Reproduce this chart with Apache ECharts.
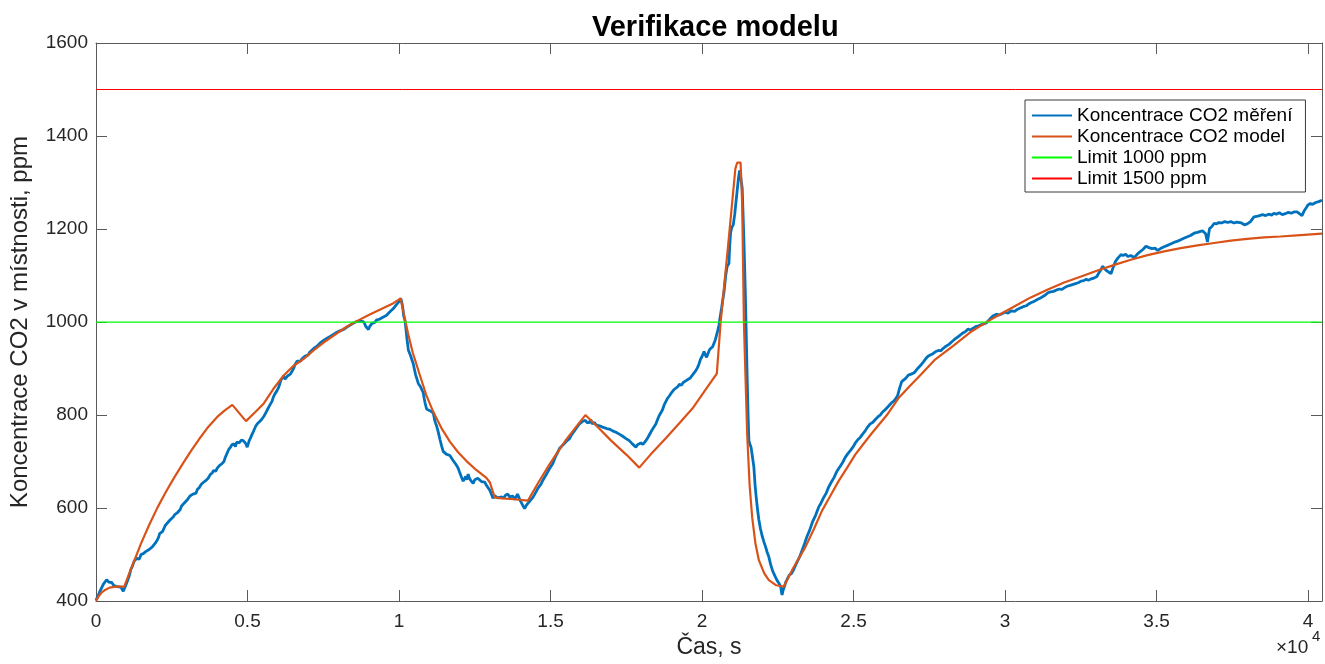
<!DOCTYPE html>
<html>
<head>
<meta charset="utf-8">
<script src="https://cdn.jsdelivr.net/npm/echarts@6/dist/echarts.min.js"></script>
<style>
html,body{margin:0;padding:0;background:#fff;}
#chart{width:1325px;height:664px;}
</style>
</head>
<body>
<div id="chart"></div>
<script>
// ---- data (time [s], CO2 [ppm]) ----
const titleText = 'Verifikace modelu';
const xName = 'Čas, s';
const yName = 'Koncentrace CO2 v místnosti, ppm';
const seriesNames = ['Koncentrace CO2 měření', 'Koncentrace CO2 model', 'Limit 1000 ppm', 'Limit 1500 ppm'];
const xTickScale = 10000; // tick labels shown in units of 10^4 s

const measured = [
[0,402],[60,410],[120,420],[180,424],[240,436],[300,440],[350,446],[385,447],[420,441],[470,438],[520,440],[580,434],[640,435],[700,431],[760,434],[820,430],[870,432],[900,421],[930,426],[970,432],[1000,436],
[1050,446],[1100,455],[1150,468],[1200,475],[1240,478],[1261,486],[1300,484],[1350,492],[1390,496],[1420,490],[1460,495],[1480,500],[1530,497],[1560,502],[1610,500],[1650,507],[1700,505],[1754,511],[1800,510],[1850,516],[1900,519],[1950,524],[2000,527],[2028,532],
[2070,538],[2100,545],[2150,543],[2200,550],[2240,556],[2280,562],[2320,561],[2357,568],[2400,571],[2450,575],[2500,579],[2550,581],[2600,586],[2640,583],[2686,590],[2730,594],[2780,597],[2820,604],[2850,602],[2900,610],[2950,613],[3015,618],
[3060,622],[3100,626],[3150,625],[3200,630],[3250,633],[3300,632],[3344,640],[3380,643],[3420,645],[3460,650],[3500,648],[3540,655],[3580,657],[3620,659],[3650,663],[3700,664],[3728,668],[3770,672],[3800,675],[3840,676],[3880,681],[3920,677],[3950,679],[4002,686],
[4040,690],[4080,692],[4120,690],[4150,695],[4190,698],[4222,700],[4260,708],[4300,714],[4340,718],[4380,726],[4420,723],[4441,731],[4480,736],[4520,734],[4560,738],[4600,732],[4640,741],[4660,744],[4700,738],[4740,741],[4790,746],[4825,750],[4860,745],[4900,743],[4950,738],[4989,731],[5020,737],
[5050,744],[5100,751],[5153,759],[5190,764],[5230,770],[5270,776],[5318,781],[5360,783],[5400,786],[5440,789],[5470,791],[5510,794],[5537,797],[5580,802],[5620,807],[5660,812],[5700,817],[5750,821],[5811,830],[5850,838],[5900,845],[5940,848],[5970,852],[6000,855],[6031,860],
[6070,868],[6100,875],[6150,879],[6195,884],[6240,877],[6280,881],[6320,884],[6350,887],[6380,883],[6414,888],[6460,893],[6500,898],[6540,903],[6570,909],[6600,911],[6634,916],[6670,912],[6700,917],[6750,916],[6800,921],[6850,924],[6900,927],[6963,931],
[7000,929],[7050,935],[7100,937],[7150,941],[7180,938],[7220,945],[7260,943],[7292,948],[7340,949],[7400,955],[7450,953],[7500,960],[7550,958],[7600,964],[7650,963],[7700,968],[7730,966],[7780,971],[7850,974],[7900,972],[7950,978],[8000,977],
[8050,981],[8100,979],[8168,984],[8220,983],[8280,989],[8340,988],[8400,994],[8450,993],[8500,998],[8550,996],[8607,1001],[8650,999],[8700,1002],[8760,998],[8826,1001],[8870,996],[8900,991],[8950,988],[8991,984],[9030,990],[9070,994],
[9110,997],[9155,1001],[9200,999],[9250,1004],[9300,1002],[9350,1006],[9400,1004],[9484,1011],[9530,1010],[9580,1014],[9640,1016],[9700,1022],[9750,1021],[9813,1029],[9860,1032],[9920,1038],[9960,1037],[10000,1044],[10030,1046],[10055,1051],
[10080,1046],[10100,1040],[10130,1028],[10150,1015],[10197,1003],[10230,985],[10260,965],[10290,950],[10307,940],[10340,936],[10380,928],[10420,920],[10471,910],[10510,898],[10550,886],[10590,878],[10636,868],[10670,869],[10700,862],[10750,855],[10800,848],[10830,836],[10860,826],[10910,813],[10950,815],[11000,810],[11060,812],[11129,805],
[11160,795],[11180,788],[11210,782],[11239,777],[11290,765],[11350,748],[11400,735],[11458,722],[11500,726],[11560,716],[11620,720],[11678,713],[11720,709],[11780,703],[11840,700],[11897,692],[11950,686],[12000,677],[12060,667],[12117,658],[12160,663],[12200,668],[12240,661],[12281,673],
[12320,665],[12360,660],[12400,658],[12446,653],[12500,661],[12550,658],[12600,664],[12665,660],[12720,657],[12780,654],[12830,656],[12884,649],[12940,646],[13000,638],[13050,630],[13103,621],[13150,627],[13200,624],[13260,622],[13322,618],[13380,624],[13450,622],[13520,628],[13596,630],[13650,624],[13700,620],[13760,626],[13820,618],[13871,620],[13910,630],[13950,624],[14000,616],[14050,610],[14100,604],[14145,599],[14200,606],[14250,609],[14300,614],[14360,617],[14419,623],
[14480,630],[14530,636],[14580,642],[14630,646],[14690,652],[14748,660],[14800,664],[14850,671],[14900,677],[14960,684],[15020,688],[15077,696],[15130,705],[15180,713],[15240,720],[15296,728],[15350,731],[15400,735],[15450,739],[15500,742],[15560,745],[15625,749],
[15680,756],[15740,760],[15800,767],[15850,772],[15900,775],[15954,781],[16000,778],[16050,786],[16100,783],[16150,789],[16200,784],[16250,788],[16283,784],[16330,790],[16380,781],[16450,784],[16500,779],[16560,782],[16612,777],[16660,781],[16720,774],[16780,777],[16850,771],[16900,775],[16941,770],
[17000,772],[17050,766],[17100,769],[17160,763],[17220,765],[17270,759],[17320,762],[17370,755],[17420,757],[17480,750],[17540,752],[17599,745],[17650,742],[17700,738],[17760,736],[17818,731],[17870,736],[17920,733],[17980,740],[18050,737],[18100,741],[18147,745],
[18200,750],[18250,756],[18300,762],[18350,768],[18400,772],[18476,781],[18530,790],[18580,798],[18650,806],[18700,812],[18750,822],[18805,829],[18860,836],[18920,841],[18970,846],[19030,848],[19080,855],[19134,858],
[19200,861],[19250,866],[19320,864],[19380,870],[19450,873],[19520,876],[19600,879],[19682,886],[19740,889],[19800,896],[19850,902],[19900,910],[19950,920],[20000,926],[20040,932],[20066,937],[20110,929],[20150,924],[20200,933],[20250,941],[20300,944],[20350,947],[20395,951],[20440,962],[20480,972],[20520,982],[20559,993],
[20600,1012],[20650,1032],[20690,1050],[20724,1064],[20750,1080],[20779,1099],[20810,1112],[20830,1120],[20860,1121],[20888,1126],[20910,1160],[20943,1192],[20980,1203],[21000,1206],[21030,1209],[21053,1212],[21080,1232],[21110,1252],[21140,1270],[21162,1284],[21200,1308],[21240,1326],[21270,1316],[21290,1305],[21326,1288],[21350,1240],[21380,1180],[21410,1110],[21437,1041],[21460,970],[21490,880],[21520,800],[21546,745],[21580,738],[21620,730],[21660,712],[21711,688],[21750,650],[21790,622],[21830,598],[21875,575],[21930,555],[21980,541],[22040,528],[22095,517],[22150,505],[22200,496],[22260,480],[22314,468],[22370,459],[22420,452],[22480,444],[22533,439],[22570,435],[22600,430],[22620,420],[22642,413],[22670,422],[22700,428],[22730,433],[22752,439],[22810,447],[22880,456],[22950,459],[23026,468],
[23080,476],[23150,486],[23220,495],[23300,509],[23380,523],[23464,539],[23550,552],[23650,571],[23750,585],[23849,602],[23920,610],[24000,621],[24090,631],[24178,645],[24260,655],[24350,665],[24450,679],[24550,689],[24640,698],[24726,709],[24800,716],[24900,724],[24980,731],[25050,739],[25140,747],[25220,752],[25300,759],[25384,766],[25450,773],[25500,776],[25550,781],[25630,784],[25713,790],[25800,796],[25880,800],[25950,806],[26050,812],[26151,819],[26250,826],[26330,830],[26400,836],[26460,843],[26520,858],[26590,872],[26650,876],[26720,879],[26809,886],[26900,888],[27000,891],
[27100,899],[27200,906],[27300,914],[27380,921],[27450,926],[27530,929],[27620,932],[27700,936],[27800,939],[27880,938],[27950,943],[28050,948],[28150,952],[28234,957],[28320,962],[28400,966],[28500,971],[28600,976],[28700,980],[28783,985],[28860,983],[28950,987],[29030,990],[29100,991],[29200,994],[29300,996],[29380,998],[29441,1000],[29520,1008],[29600,1013],[29715,1017],[29800,1015],[29900,1018],[30000,1021],
[30100,1019],[30200,1024],[30318,1023],[30400,1027],[30500,1030],[30600,1033],[30700,1035],[30780,1039],[30866,1042],[30950,1044],[31050,1048],[31150,1051],[31250,1055],[31330,1058],[31414,1063],[31500,1065],[31600,1066],[31700,1069],[31800,1071],[31880,1070],[31963,1074],[32050,1077],[32150,1079],[32250,1081],[32350,1083],[32430,1085],[32510,1088],[32600,1089],[32680,1092],[32750,1090],[32850,1093],[32949,1095],[33030,1098],[33100,1106],[33160,1112],[33224,1120],
[33290,1114],[33360,1110],[33430,1107],[33497,1104],[33570,1118],[33650,1131],[33730,1138],[33826,1145],[33900,1143],[33980,1146],[34050,1141],[34150,1143],[34266,1139],[34350,1145],[34450,1151],[34550,1156],[34649,1163],[34750,1160],[34850,1158],[34950,1159],[35033,1154],[35130,1158],[35250,1162],[35400,1166],[35500,1169],[35600,1172],[35700,1174],[35800,1177],[35900,1180],[36000,1183],[36120,1186],[36241,1191],[36350,1193],[36450,1195],[36520,1196],[36569,1199],[36620,1190],[36680,1172],[36720,1190],[36750,1201],[36820,1205],[36898,1212],
[36980,1211],[37050,1214],[37150,1213],[37250,1216],[37350,1214],[37448,1216],[37550,1213],[37650,1215],[37700,1211],[37800,1213],[37900,1209],[37993,1211],[38100,1216],[38214,1226],[38300,1227],[38400,1229],[38500,1231],[38600,1229],[38700,1232],[38800,1230],[38872,1234],[38950,1232],[39050,1235],[39150,1231],[39250,1233],[39350,1236],[39450,1234],[39550,1237],[39637,1237],[39700,1233],[39800,1229],[39880,1240],[39950,1247],[40000,1252],[40075,1255],[40150,1253],[40250,1257],[40350,1259],[40460,1262]
];

const model = [
[0,400],[80,410],[180,418],[300,424],[450,429],[650,431],[932,431],[1100,460],[1300,493],[1480,523],[1750,563],[2028,601],[2300,634],[2575,665],[2850,694],[3125,722],[3400,748],[3673,772],[4000,796],[4250,810],[4500,822],[4950,787],[5250,806],[5537,825],[5850,856],[6195,885],[6500,905],[6853,921],[7200,940],[7510,956],[8000,978],[8300,991],[8607,1002],[9000,1015],[9484,1030],[9800,1040],[10055,1051],[10150,1020],[10300,975],[10450,935],[10691,885],[10900,843],[11129,807],[11400,772],[11678,743],[11950,720],[12227,701],[12550,682],[12884,665],[13000,655],[13158,623],[13400,621],[13800,619],[14254,616],[14600,655],[14967,694],[15250,722],[15516,747],[15850,775],[16151,800],[16500,778],[17000,745],[17500,715],[17928,687],[18300,715],[18805,750],[19243,782],[19682,814],[20100,853],[20488,889],[20614,999],[20888,1183],[21100,1330],[21162,1343],[21272,1343],[21326,1254],[21382,999],[21491,757],[21570,650],[21655,580],[21760,525],[21875,488],[22050,460],[22204,445],[22450,434],[22697,431],[23000,470],[23410,516],[23700,556],[23957,594],[24250,628],[24506,658],[24800,688],[25055,715],[25350,740],[25603,761],[26100,800],[26480,836],[26850,862],[27194,885],[27700,920],[28289,949],[28850,978],[29441,1002],[29900,1019],[30318,1034],[30850,1053],[31414,1070],[31950,1085],[32510,1098],[33050,1111],[33608,1123],[34150,1134],[34704,1144],[35250,1152],[35800,1159],[36350,1165],[36898,1170],[37450,1175],[37993,1179],[38550,1182],[39089,1184],[39750,1187],[40460,1190]
];

const limit1000 = [[0,1000],[40460,1000]];
const limit1500 = [[0,1500],[40460,1500]];

const xMin = 0, xMax = 40460, xInterval = 5000;
const yMin = 400, yMax = 1600, yInterval = 200;

// ---- chart ----
const FONT = '"Liberation Sans", Arial, Helvetica, sans-serif';
const axisColor = '#5a5a5a';
const textColor = '#262626';

const chart = echarts.init(document.getElementById('chart'), null, {renderer: 'canvas'});

const baseX = {
  type: 'value', min: xMin, max: xMax, interval: xInterval,
  axisLine: {show: true, onZero: false, lineStyle: {color: axisColor, width: 1}},
  axisTick: {show: true, inside: true, length: 11, lineStyle: {color: axisColor}},
  splitLine: {show: false}
};
const baseY = {
  type: 'value', min: yMin, max: yMax, interval: yInterval,
  axisLine: {show: true, onZero: false, lineStyle: {color: axisColor, width: 1}},
  axisTick: {show: true, inside: true, length: 11, lineStyle: {color: axisColor}},
  splitLine: {show: false}
};

const option = {
  backgroundColor: '#ffffff',
  animation: false,
  textStyle: {fontFamily: FONT},
  title: {
    text: titleText, left: 587, top: 8,
    textStyle: {fontFamily: FONT, fontSize: 29, fontWeight: 'bold', color: '#000'}
  },
  grid: {left: 95, right: 3, top: 43, bottom: 56, containLabel: false},
  legend: {
    orient: 'vertical', left: 1025, top: 100,
    padding: [6, 13, 4, 7], itemGap: 2, itemWidth: 40, itemHeight: 2,
    icon: 'rect',
    backgroundColor: '#ffffff', borderColor: '#3a3a3a', borderWidth: 1, borderRadius: 0,
    textStyle: {fontFamily: FONT, fontSize: 19, color: '#000', lineHeight: 19},
    data: seriesNames
  },
  xAxis: [
    Object.assign({}, baseX, {
      position: 'bottom',
      name: xName, nameLocation: 'middle', nameGap: 32,
      nameTextStyle: {fontFamily: FONT, fontSize: 23, color: textColor},
      axisLabel: {show: true, margin: 11, fontFamily: FONT, fontSize: 19, color: textColor,
        formatter: v => String(v / xTickScale)}
    }),
    Object.assign({}, baseX, {position: 'top', axisLabel: {show: false}})
  ],
  yAxis: [
    Object.assign({}, baseY, {
      position: 'left',
      name: yName, nameLocation: 'middle', nameGap: 64, nameRotate: 90,
      nameTextStyle: {fontFamily: FONT, fontSize: 24, color: textColor},
      axisLabel: {show: true, margin: 8, fontFamily: FONT, fontSize: 19, color: textColor,
        formatter: v => String(v)}
    }),
    Object.assign({}, baseY, {position: 'right', axisLabel: {show: false}})
  ],
  graphic: [
    {type: 'text', left: 1276, top: 638, style: {text: '×10', fontFamily: FONT, fontSize: 19, fill: textColor}},
    {type: 'text', left: 1312, top: 629, style: {text: '4', fontFamily: FONT, fontSize: 15, fill: textColor}}
  ],
  series: [
    {name: seriesNames[0], type: 'line', data: measured, symbol: 'none', showSymbol: false,
     lineStyle: {color: '#0072BD', width: 2.8}, itemStyle: {color: '#0072BD'}, z: 2},
    {name: seriesNames[1], type: 'line', data: model, symbol: 'none', showSymbol: false,
     lineStyle: {color: '#D95319', width: 2.2}, itemStyle: {color: '#D95319'}, z: 3},
    {name: seriesNames[2], type: 'line', data: limit1000, symbol: 'none', showSymbol: false,
     lineStyle: {color: '#00FF00', width: 1.2}, itemStyle: {color: '#00FF00'}, z: 4},
    {name: seriesNames[3], type: 'line', data: limit1500, symbol: 'none', showSymbol: false,
     lineStyle: {color: '#FF0000', width: 1}, itemStyle: {color: '#FF0000'}, z: 4}
  ]
};
chart.setOption(option);
</script>
</body>
</html>
